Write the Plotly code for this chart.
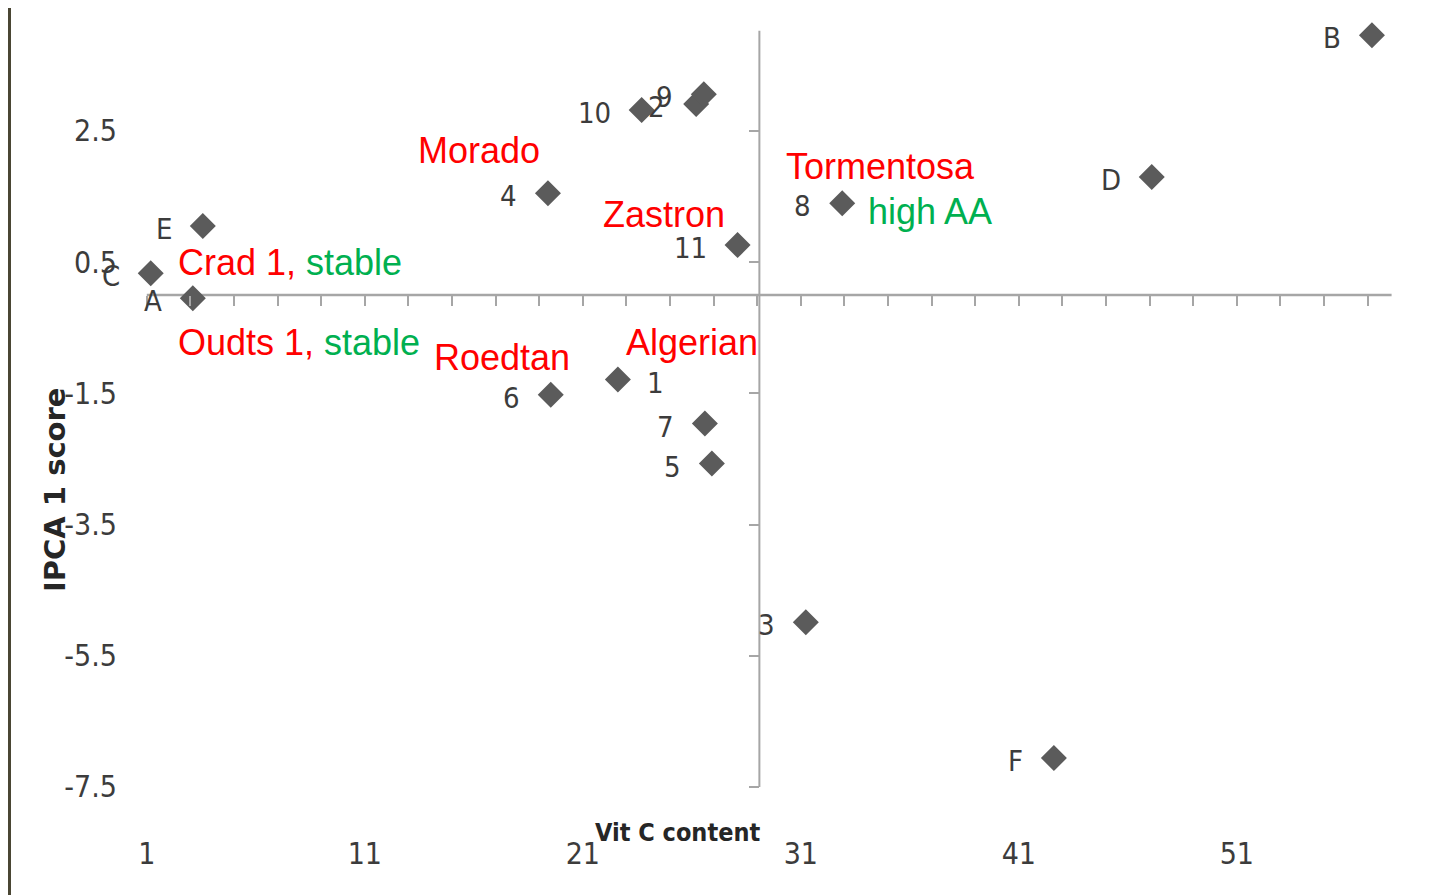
import plotly.graph_objects as go

# ---------------- data ----------------
point_labels = ["B", "D", "8", "11", "10", "2", "9", "4", "E", "C", "A", "6", "1", "7", "5", "3", "F"]
vit_c = [57.2, 47.1, 32.9, 28.1, 23.7, 26.2, 26.55, 19.4, 3.57, 1.18, 3.11, 19.53, 22.61, 26.6, 26.92, 31.23, 42.61]
ipca1 = [3.96, 1.80, 1.40, 0.76, 2.82, 2.91, 3.06, 1.55, 1.05, 0.33, -0.05, -1.52, -1.29, -1.96, -2.57, -4.99, -7.06]
labels_right = ["1"]          # labels drawn to the right of their point

x_tick_vals = [1, 11, 21, 31, 41, 51]
x_tick_text = ["1", "11", "21", "31", "41", "51"]
x_minor_vals = [1, 3, 5, 7, 9, 11, 13, 15, 17, 19, 21, 23, 25, 27, 29, 31, 33, 35, 37, 39, 41, 43, 45, 47, 49, 51, 53, 55, 57]
y_tick_vals = [-7.5, -5.5, -3.5, -1.5, 0.5, 2.5]
y_tick_text = ["-7.5", "-5.5", "-3.5", "-1.5", "0.5", "2.5"]

note_red = ["Morado", "Tormentosa", "", "Zastron", "Crad 1, ", "Oudts 1, ", "Roedtan", "Algerian"]
note_green = ["", "", "high AA", "", "stable", "stable", "", ""]
note_x = [13.34, 30.22, 33.98, 21.83, 2.33, 2.33, 14.07, 22.88]
note_y = [2.21, 1.96, 1.27, 1.23, 0.50, -0.72, -0.96, -0.72]

x_axis_title = "Vit C content"
y_axis_title = "IPCA 1 score"

# crossing axes
cross_x = 29.1
h_axis_span = [1, 58.1]
v_axis_span = [-7.5, 4.03]

# ---------------- layout constants ----------------
W, H = 1440, 895
PAGE_OFF = 8                  # page body margin offset of the figure
ML, MR, MT, MB = 117, 15, 0, 80
XR = [0, 60]
YR = [-8.05, 4.375]
PW, PH = W - ML - MR, H - MT - MB

def px_x(page_x):
    return (page_x - PAGE_OFF - ML) / PW

def px_y(page_y):
    return (H - MB - (page_y - PAGE_OFF)) / PH

NARROW = "DejaVu Sans Condensed, Liberation Sans Narrow, sans-serif"
ARIAL = "Liberation Sans, Arial, sans-serif"
AXIS_GRAY = "#a6a6a6"
LABEL_COLOR = "#3c3c3c"

fig = go.Figure()
fig.add_trace(go.Scatter(
    x=vit_c, y=ipca1, mode="markers",
    marker=dict(symbol="diamond", size=20, color="#5b5b5b", line=dict(width=0)),
    cliponaxis=False, showlegend=False, hoverinfo="skip",
))
# empty trace so the crossing (overlay) axes get drawn
fig.add_trace(go.Scatter(x=[], y=[], xaxis="x2", yaxis="y2", mode="markers",
                         showlegend=False, hoverinfo="skip"))

annotations = []
for lab, xv, yv in zip(point_labels, vit_c, ipca1):
    right = lab in labels_right
    annotations.append(dict(
        x=xv, y=yv, xref="x", yref="y", text=lab, showarrow=False,
        xanchor="left" if right else "right", yanchor="middle",
        xshift=27 if right else -29, yshift=-3,
        font=dict(family=NARROW, size=29, color=LABEL_COLOR),
    ))

for red, green, xv, yv in zip(note_red, note_green, note_x, note_y):
    txt = ""
    if red:
        txt += red
    if green:
        txt += '<span style="color:#00B050">' + green + "</span>"
    annotations.append(dict(
        x=xv, y=yv, xref="x", yref="y", text=txt, showarrow=False,
        xanchor="left", yanchor="middle",
        font=dict(family=ARIAL, size=36, color="#FF0000"),
    ))

annotations.append(dict(
    x=px_x(55), y=px_y(490), xref="paper", yref="paper", text="<b>" + y_axis_title + "</b>",
    textangle=-90, showarrow=False, xanchor="center", yanchor="middle",
    font=dict(family="DejaVu Sans, sans-serif", size=29, color="#262626"),
))
annotations.append(dict(
    x=px_x(677), y=px_y(833), xref="paper", yref="paper", text="<b>" + x_axis_title + "</b>",
    showarrow=False, xanchor="center", yanchor="middle",
    font=dict(family=NARROW, size=25, color="#262626"),
))

shapes = [
    dict(type="line", xref="x", yref="y", x0=h_axis_span[0], x1=h_axis_span[1], y0=0, y1=0,
         line=dict(color=AXIS_GRAY, width=2.5), layer="below"),
    dict(type="line", xref="x", yref="y", x0=cross_x, x1=cross_x, y0=v_axis_span[0], y1=v_axis_span[1],
         line=dict(color=AXIS_GRAY, width=2), layer="below"),
    # photo frame edge (left)
    dict(type="rect", xref="paper", yref="paper", x0=px_x(PAGE_OFF), x1=px_x(11), y0=px_y(H + PAGE_OFF), y1=px_y(PAGE_OFF),
         fillcolor="#4a4634", line=dict(width=0), layer="above"),
]

fig.update_layout(
    width=W, height=H,
    margin=dict(l=ML, r=MR, t=MT, b=MB, autoexpand=False),
    paper_bgcolor="white", plot_bgcolor="rgba(0,0,0,0)",
    showlegend=False,
    xaxis=dict(range=XR, tickvals=x_tick_vals, ticktext=x_tick_text, ticks="outside",
               ticklen=4, tickcolor="rgba(0,0,0,0)", showgrid=False, zeroline=False, showline=False,
               tickfont=dict(family=NARROW, size=30, color=LABEL_COLOR), fixedrange=True),
    yaxis=dict(range=YR, tickvals=y_tick_vals, ticktext=y_tick_text, ticks="outside",
               ticklen=1, tickcolor="rgba(0,0,0,0)",
               showgrid=False, zeroline=False, showline=False,
               tickfont=dict(family=NARROW, size=30, color=LABEL_COLOR), fixedrange=True),
    xaxis2=dict(overlaying="x", anchor="free", position=(0 - YR[0]) / (YR[1] - YR[0]), side="bottom",
                range=XR, tickvals=x_minor_vals, ticks="outside", ticklen=10, tickwidth=1.5,
                tickcolor=AXIS_GRAY, showticklabels=False, showgrid=False, zeroline=False, showline=False,
                fixedrange=True),
    yaxis2=dict(overlaying="y", anchor="free", position=(cross_x - XR[0]) / (XR[1] - XR[0]), side="left",
                range=YR, tickvals=y_tick_vals, ticks="outside", ticklen=10, tickwidth=1.5,
                tickcolor=AXIS_GRAY, showticklabels=False, showgrid=False, zeroline=False, showline=False,
                fixedrange=True),
    annotations=annotations,
    shapes=shapes,
)

fig.write_html("out.html")
